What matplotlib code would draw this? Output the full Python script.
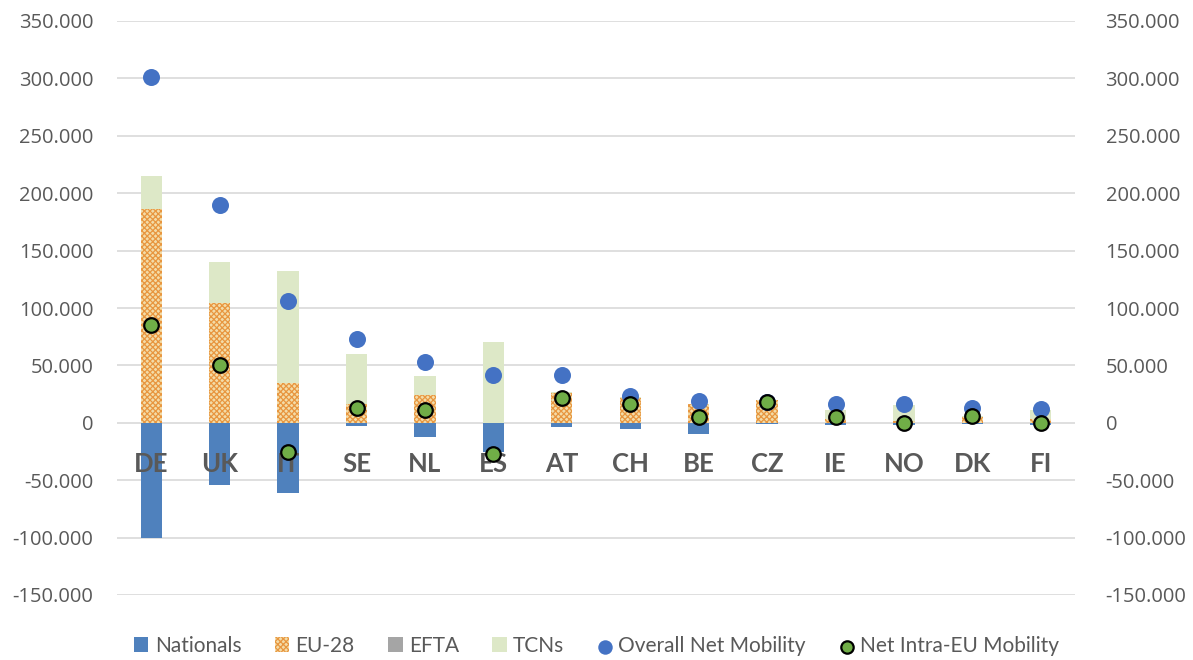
import matplotlib
matplotlib.use("Agg")
from matplotlib import pyplot as plt
from matplotlib.ticker import FuncFormatter, MultipleLocator
import numpy as np

# Daten (in Tausend)
countries = ["DE", "UK", "IT", "SE", "NL", "ES", "AT", "CH", "BE", "CZ", "IE", "NO", "DK", "FI"]
nationals = [-100, -54, -61, -3, -12, -25, -3.5, -5, -10, -1, -1.5, -1.5, -1, -2]
eu28 = [186, 104, 35, 16, 24, 0, 26, 22, 16, 19.5, 3, 2, 5, 3]
efta = [0, 0, 0, 0, 0, 0, 0, 0, 0, 0, 0, 0, 0, 0]
tcns = [29, 36.5, 97, 44, 17, 70.5, 1, 0.5, 0, 0, 8, 13.7, 1, 8]
overall = [301, 190, 106, 73, 53, 42, 42, 23.5, 18.6, 18, 16.5, 16, 13, 12]
net_intra = [85, 50, -25, 13, 11, -27, 22, 16, 5, 18, 5, 0, 6, 0]

grau = "#595959"
plt.rcParams["font.family"] = ["Open Sans", "DejaVu Sans"]
plt.rcParams["hatch.linewidth"] = 0.9

fig = plt.figure(figsize=(11.93, 6.6), dpi=100)
ax = fig.add_axes([117 / 1193, 1 - 595 / 660, 958 / 1193, 574 / 660])

x = np.arange(len(countries))
breite = 0.31

# gestapelte Balken wie in Excel: positive nach oben, negative nach unten
pos_basis = np.zeros(len(x))
neg_basis = np.zeros(len(x))
serien = [
    ("Nationals", nationals, dict(color="#4F81BD")),
    ("EU-28", eu28, dict(facecolor="#F3DCA8", edgecolor="#E8963F", hatch="xxxxxx", linewidth=0)),
    ("EFTA", efta, dict(color="#A5A5A5")),
    ("TCNs", tcns, dict(color="#DDE8C7")),
]
for name, werte, stil in serien:
    werte = np.array(werte, dtype=float)
    basis = np.where(werte >= 0, pos_basis, neg_basis)
    ax.bar(x, werte, breite, bottom=basis, label=name, zorder=2, **stil)
    pos_basis = pos_basis + np.clip(werte, 0, None)
    neg_basis = neg_basis + np.clip(werte, None, 0)

ax.scatter(x, overall, s=150, color="#4472C4", zorder=3, label="Overall Net Mobility",
           linewidths=0)
ax.scatter(x, net_intra, s=110, color="#70AD47", edgecolor="black", linewidths=1.6,
           zorder=4, label="Net Intra-EU Mobility")

ax.set_xlim(-0.5, len(x) - 0.5)
ax.set_ylim(-150, 350)
ax.yaxis.set_major_locator(MultipleLocator(50))

def tausender(v, pos):
    n = int(round(v * 1000))
    if n == 0:
        return "0"
    s = f"{abs(n):,}".replace(",", ".")
    return ("-" if n < 0 else "") + s

ax.yaxis.set_major_formatter(FuncFormatter(tausender))
ax.grid(axis="y", color="#D9D9D9", linewidth=1.2)
ax.set_axisbelow(True)
# Laenderbeschriftung ueber den Balken, aber unter den Punkten
ax.xaxis.set_zorder(2.5)
for s in ax.spines.values():
    s.set_visible(False)
ax.spines["bottom"].set_position(("data", 0))

ax.tick_params(axis="y", length=0, pad=17, labelsize=14.5, labelcolor=grau)
ax.set_xticks(x)
ax.set_xticklabels(countries, fontfamily="Lato", fontweight="bold", fontsize=18.5, color=grau)
ax.tick_params(axis="x", length=0, pad=21)

ax2 = ax.twinx()
ax2.set_ylim(ax.get_ylim())
ax2.yaxis.set_major_locator(MultipleLocator(50))
ax2.yaxis.set_major_formatter(FuncFormatter(tausender))
ax2.tick_params(axis="y", length=0, pad=22, labelsize=14.5, labelcolor=grau)
for s in ax2.spines.values():
    s.set_visible(False)

h, l = ax.get_legend_handles_labels()
reihenfolge = ["Nationals", "EU-28", "EFTA", "TCNs", "Overall Net Mobility", "Net Intra-EU Mobility"]
h = [h[l.index(n)] for n in reihenfolge]
leg = fig.legend(h, reihenfolge, loc="center", bbox_to_anchor=(0.5, 1 - 646 / 660), ncol=6,
                 frameon=False, prop={"family": "Lato", "size": 15}, handlelength=0.7,
                 handleheight=0.7, handletextpad=0.3, columnspacing=1.6, labelcolor=grau,
                 markerscale=0.85)

plt.savefig("out.png", dpi=100)
